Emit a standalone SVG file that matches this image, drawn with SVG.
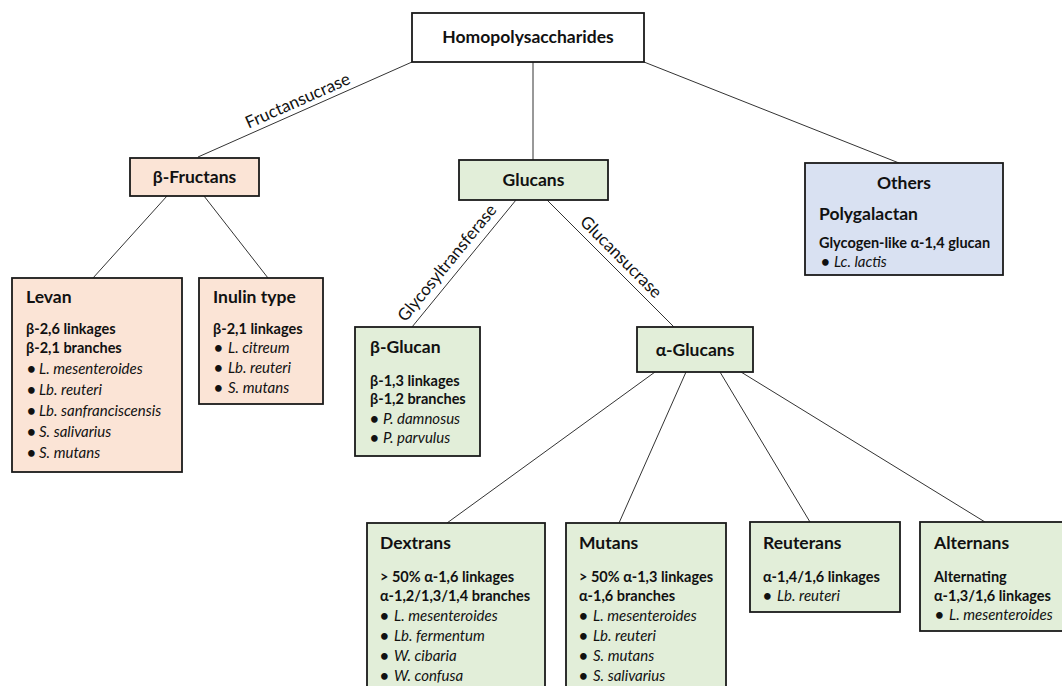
<svg xmlns="http://www.w3.org/2000/svg" width="1062" height="686" viewBox="0 0 1062 686">
<style>
text{font-family:Lato,"Open Sans","Liberation Sans",sans-serif;fill:#111}
.t{font-size:17.5px;font-weight:bold}
.b{font-size:14.5px;font-weight:bold}
.i{font-size:15px;font-style:italic;font-weight:normal}
.d{font-size:15px;font-style:normal;font-weight:bold}
.l{font-size:17px;font-weight:normal}
.c{text-anchor:middle}
.box{stroke:#1a1a1a;stroke-width:1.8}
.fr{fill:#FBE4D6}
.gl{fill:#E2EED9}
.ot{fill:#D9E1F2}
.wh{fill:#fff}
#connectors line{stroke:#333;stroke-width:1}
</style>
<rect width="1062" height="686" fill="#fff"/>
<g id="connectors">
<line x1="412" y1="62" x2="198" y2="157"/>
<line x1="533" y1="62" x2="533" y2="160"/>
<line x1="644" y1="62" x2="899" y2="163"/>
<line x1="167" y1="196" x2="93" y2="278"/>
<line x1="204" y1="196" x2="268" y2="278"/>
<line x1="516" y1="200" x2="412" y2="327"/>
<line x1="547" y1="200" x2="674" y2="327"/>
<line x1="655" y1="372" x2="447" y2="523"/>
<line x1="686" y1="372" x2="619" y2="523"/>
<line x1="720" y1="372" x2="810" y2="522"/>
<line x1="741" y1="372" x2="985" y2="522"/>
<text class="l c" transform="translate(300,106) rotate(-23.9)">Fructansucrase</text>
<text class="l c" transform="translate(451.5,266.5) rotate(-50.7)">Glycosyltransferase</text>
<text class="l c" transform="translate(617,261) rotate(45.2)">Glucansucrase</text>
</g>
<g id="homopolysaccharides">
<rect class="box wh" x="412" y="13" width="232" height="49"/>
<text class="t c" x="528" y="43">Homopolysaccharides</text>
</g>
<g id="beta-fructans">
<rect class="box fr" x="130" y="158" width="129" height="38"/>
<text class="t c" x="194.5" y="183">β-Fructans</text>
</g>
<g id="glucans">
<rect class="box gl" x="459" y="160" width="149" height="40"/>
<text class="t c" x="533.5" y="186">Glucans</text>
</g>
<g id="others">
<rect class="box ot" x="805" y="163" width="198" height="112"/>
<text class="t c" x="904" y="189">Others</text>
<text class="t" x="819" y="220">Polygalactan</text>
<text class="b" x="819" y="248">Glycogen-like α-1,4 glucan</text>
<text class="d" x="821" y="267">•<tspan class="i" x="834">Lc. lactis</tspan></text>
</g>
<g id="levan">
<rect class="box fr" x="12" y="278" width="170" height="194"/>
<text class="t" x="26" y="303">Levan</text>
<text class="b" x="26" y="334">β-2,6 linkages</text>
<text class="b" x="26" y="353">β-2,1 branches</text>
<text class="d" x="27" y="374">•<tspan class="i" x="39">L. mesenteroides</tspan></text>
<text class="d" x="27" y="395">•<tspan class="i" x="39">Lb. reuteri</tspan></text>
<text class="d" x="27" y="416">•<tspan class="i" x="39">Lb. sanfranciscensis</tspan></text>
<text class="d" x="27" y="437">•<tspan class="i" x="39">S. salivarius</tspan></text>
<text class="d" x="27" y="458">•<tspan class="i" x="39">S. mutans</tspan></text>
</g>
<g id="inulin-type">
<rect class="box fr" x="199" y="278" width="124" height="126"/>
<text class="t" x="213" y="303">Inulin type</text>
<text class="b" x="213" y="334">β-2,1 linkages</text>
<text class="d" x="214" y="353">•<tspan class="i" x="228">L. citreum</tspan></text>
<text class="d" x="214" y="373">•<tspan class="i" x="228">Lb. reuteri</tspan></text>
<text class="d" x="214" y="393">•<tspan class="i" x="228">S. mutans</tspan></text>
</g>
<g id="beta-glucan">
<rect class="box gl" x="355" y="327" width="125" height="129"/>
<text class="t" x="370" y="353">β-Glucan</text>
<text class="b" x="370" y="386">β-1,3 linkages</text>
<text class="b" x="370" y="404">β-1,2 branches</text>
<text class="d" x="370" y="424">•<tspan class="i" x="383">P. damnosus</tspan></text>
<text class="d" x="370" y="443">•<tspan class="i" x="383">P. parvulus</tspan></text>
</g>
<g id="alpha-glucans">
<rect class="box gl" x="637" y="327" width="116" height="45"/>
<text class="t c" x="695" y="356">α-Glucans</text>
</g>
<g id="dextrans">
<rect class="box gl" x="367" y="523" width="178" height="180"/>
<text class="t" x="380" y="549">Dextrans</text>
<text class="b" x="380" y="582">&gt; 50% α-1,6 linkages</text>
<text class="b" x="380" y="601">α-1,2/1,3/1,4 branches</text>
<text class="d" x="380" y="621">•<tspan class="i" x="394">L. mesenteroides</tspan></text>
<text class="d" x="380" y="641">•<tspan class="i" x="394">Lb. fermentum</tspan></text>
<text class="d" x="380" y="661">•<tspan class="i" x="394">W. cibaria</tspan></text>
<text class="d" x="380" y="681">•<tspan class="i" x="394">W. confusa</tspan></text>
</g>
<g id="mutans">
<rect class="box gl" x="566" y="523" width="160" height="180"/>
<text class="t" x="579" y="549">Mutans</text>
<text class="b" x="579" y="582">&gt; 50% α-1,3 linkages</text>
<text class="b" x="579" y="601">α-1,6 branches</text>
<text class="d" x="579" y="621">•<tspan class="i" x="593">L. mesenteroides</tspan></text>
<text class="d" x="579" y="641">•<tspan class="i" x="593">Lb. reuteri</tspan></text>
<text class="d" x="579" y="661">•<tspan class="i" x="593">S. mutans</tspan></text>
<text class="d" x="579" y="681">•<tspan class="i" x="593">S. salivarius</tspan></text>
</g>
<g id="reuterans">
<rect class="box gl" x="750" y="522" width="150" height="90"/>
<text class="t" x="763" y="549">Reuterans</text>
<text class="b" x="763" y="582">α-1,4/1,6 linkages</text>
<text class="d" x="763" y="601">•<tspan class="i" x="777">Lb. reuteri</tspan></text>
</g>
<g id="alternans">
<rect class="box gl" x="920" y="522" width="146" height="109"/>
<text class="t" x="934" y="549">Alternans</text>
<text class="b" x="934" y="582">Alternating</text>
<text class="b" x="934" y="601">α-1,3/1,6 linkages</text>
<text class="d" x="935" y="620">•<tspan class="i" x="949">L. mesenteroides</tspan></text>
</g>
</svg>
